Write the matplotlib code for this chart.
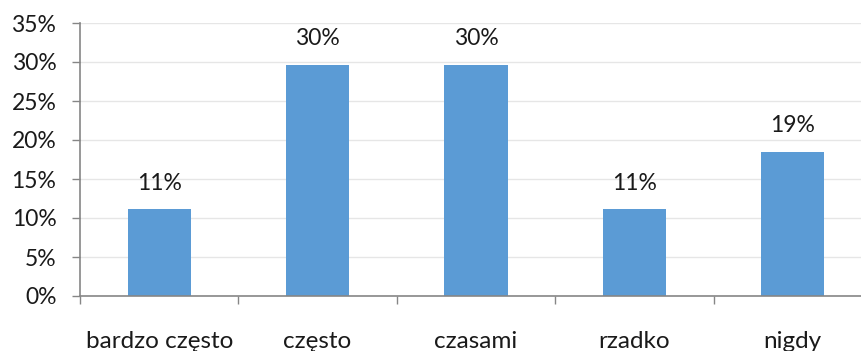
import matplotlib
matplotlib.use("Agg")
import matplotlib.pyplot as plt
import numpy as np
from matplotlib.ticker import FixedLocator, NullFormatter

categories = ["bardzo często", "często", "czasami", "rzadko", "nigdy"]
values = [11.1, 29.6, 29.6, 11.1, 18.5]
labels = ["11%", "30%", "30%", "11%", "19%"]
yticks = [0, 5, 10, 15, 20, 25, 30, 35]

plt.rcParams['font.family'] = ['Lato', 'DejaVu Sans']
FS = 16.5

W, H = 862, 351
fig = plt.figure(figsize=(W/100, H/100), dpi=100)
left, right, top, bottom = 80, 872, 23, 296
ax = fig.add_axes([left/W, 1-bottom/H, (right-left)/W, (bottom-top)/H])

x = np.arange(len(categories))
ax.bar(x, values, width=0.4, color="#5B9BD5", zorder=3)
for xi, v, lab in zip(x, values, labels):
    ax.annotate(lab, (xi, v), xytext=(0, 19), textcoords="offset points",
                ha="center", va="center", fontsize=FS, color="#1a1a1a")

ax.set_xlim(-0.5, len(categories)-0.5)
ax.set_ylim(0, 35)
ax.set_yticks(yticks)
ax.set_yticklabels([f"{t}%" for t in yticks])
ax.set_xticks(x)
ax.set_xticklabels(categories)
ax.xaxis.set_minor_locator(FixedLocator(np.arange(-0.5, len(categories), 1.0)))
ax.xaxis.set_minor_formatter(NullFormatter())
ax.tick_params(axis="x", which="major", length=0, pad=25, labelsize=17.5, labelcolor="#1a1a1a")
ax.tick_params(axis="x", which="minor", length=6, width=1, color="#868686")
ax.tick_params(axis="y", length=6, width=1, color="#868686", pad=11, labelsize=FS, labelcolor="#1a1a1a")

ax.grid(axis="y", color="#e6e6e6", linewidth=1, zorder=0)
for s in ["top", "right"]:
    ax.spines[s].set_visible(False)
for s in ["left", "bottom"]:
    ax.spines[s].set_color("#868686")
    ax.spines[s].set_linewidth(1.2)
    ax.spines[s].set_zorder(4)

fig.savefig("out.png", dpi=100)
